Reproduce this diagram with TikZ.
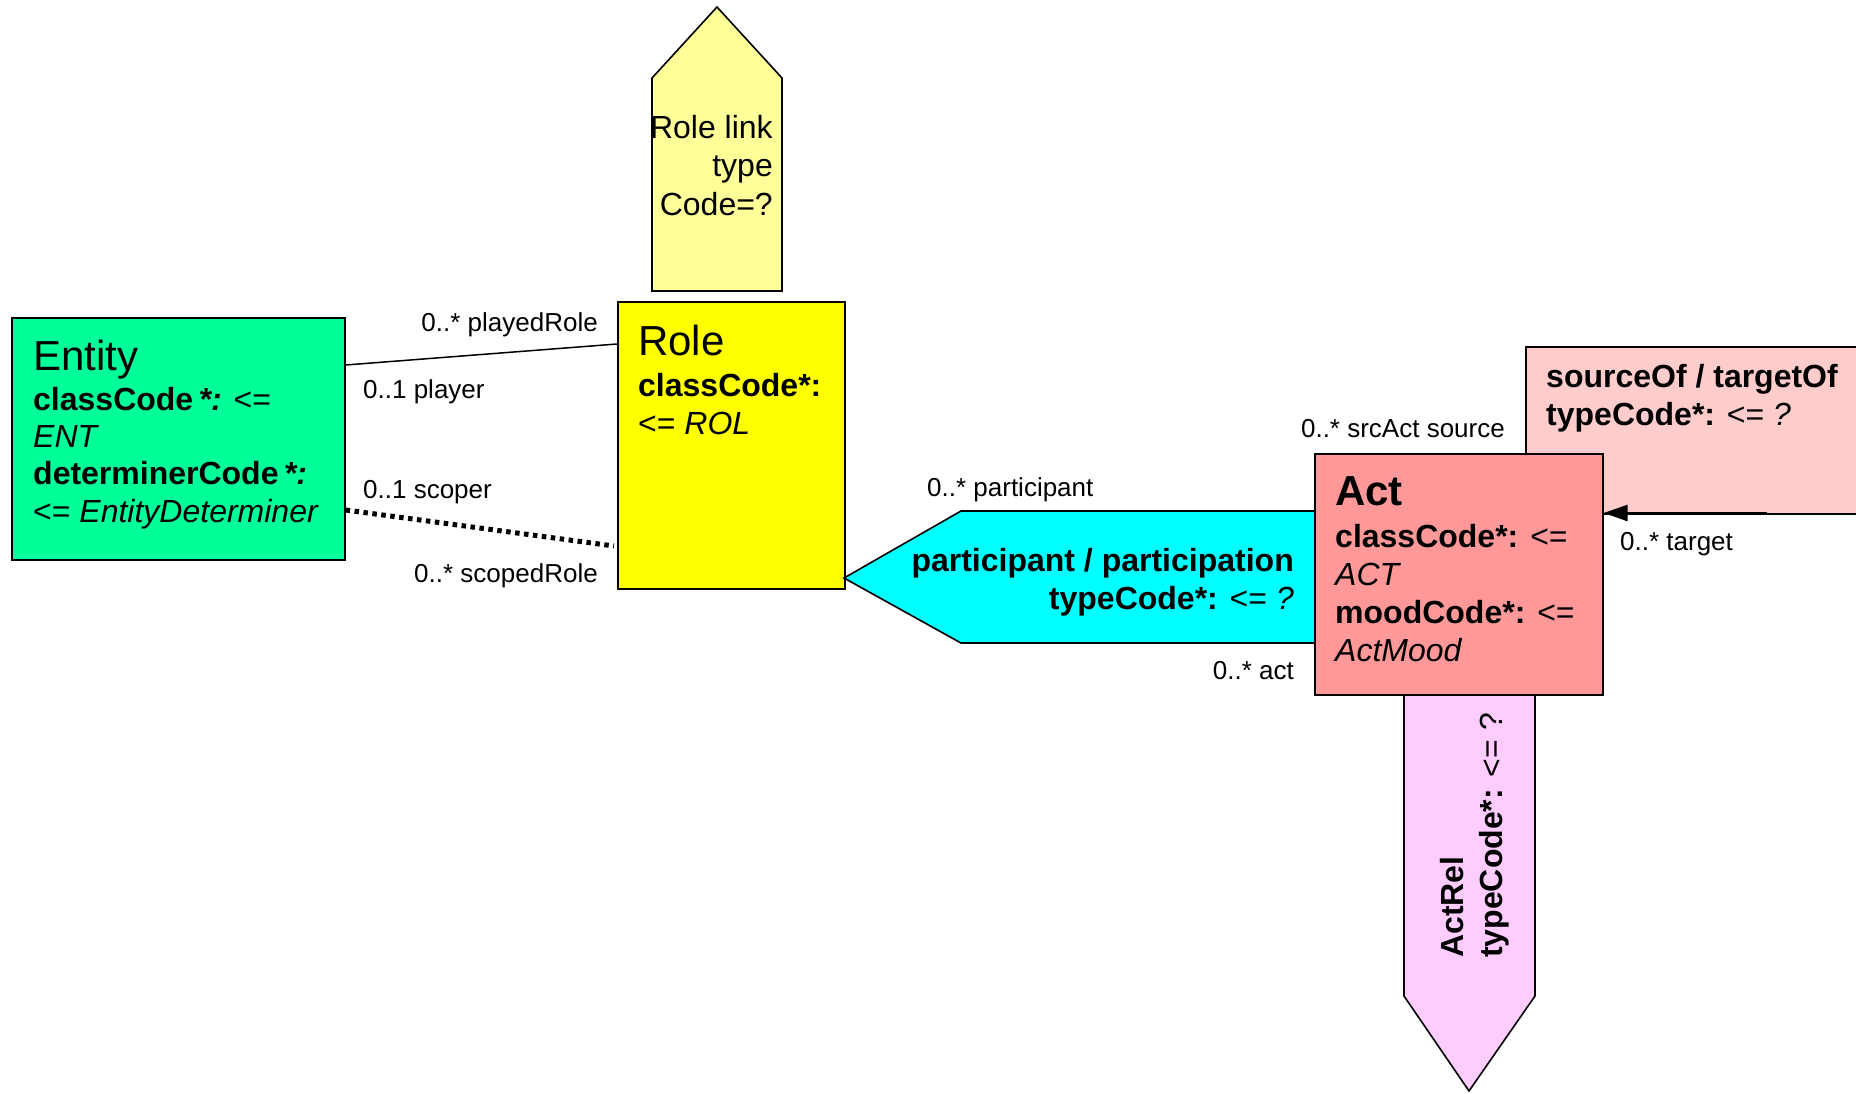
\documentclass[tikz,border=0pt]{standalone}
\usepackage{fontspec}
\setmainfont{Liberation Sans}
\usetikzlibrary{arrows.meta,calc}
\definecolor{entgreen}{RGB}{0,255,153}
\definecolor{roleyellow}{RGB}{255,255,0}
\definecolor{linkyellow}{RGB}{255,255,153}
\definecolor{partcyan}{RGB}{0,255,255}
\definecolor{actred}{RGB}{255,153,153}
\definecolor{srcpink}{RGB}{255,204,204}
\definecolor{relpink}{RGB}{255,204,255}
\begin{document}
\begin{tikzpicture}[x=1pt,y=-1pt,
  box/.style={draw=black, line width=1.6pt, inner sep=0pt, anchor=north west},
  shapeline/.style={draw=black, line width=1.6pt, line join=miter},
  % multi-line texts are placed by the baseline of their last line
  txt/.style={inner sep=0pt, anchor=base west, align=left},
  rtxt/.style={inner sep=0pt, anchor=base east, align=right},
  lbl/.style={inner sep=0pt, font=\fontsize{26}{30}\selectfont},
  title/.style={font=\fontsize{42}{48}\selectfont},
  attr/.style={font=\fontsize{32}{38}\selectfont},
]
\useasboundingbox (0,0) rectangle (1856,1093);
\clip (0,0) rectangle (1856,1093);

% role link pentagon above Role
\filldraw[shapeline, fill=linkyellow] (652,291) -- (652,78) -- (717,7) -- (782,78) -- (782,291) -- cycle;
\node[rtxt, font=\fontsize{32}{38.5}\selectfont] (linkText) at (773,215) {Role link\\type\\Code=?};

% classes
\node[box, fill=entgreen, minimum width=333pt, minimum height=242pt] (entity) at (11,317) {};
\node[box, fill=roleyellow, minimum width=227pt, minimum height=287pt] (role) at (617,301) {};

% participation pentagon pointing at Role
\filldraw[shapeline, fill=partcyan] (1314,511) -- (961,511) -- (844,578) -- (961,643) -- (1314,643);

% source/target relationship box, partly under Act
\node[box, fill=srcpink, minimum width=380pt, minimum height=167pt] (srcbox) at (1525,346) {};

% ActRel pentagon below Act
\filldraw[shapeline, fill=relpink] (1404,694) -- (1404,996) -- (1469,1091) -- (1535,996) -- (1535,694);

\node[box, fill=actred, minimum width=288pt, minimum height=241pt] (act) at (1314,453) {};

% Entity text
\node[txt, title] (entityName) at (33,370) {Entity};
\node[txt, font=\fontsize{32}{37.3}\selectfont] (entityAttrs) at (33,522) {\textbf{classCode\textit{\,*:}} <=\\\textit{ENT}\\\textbf{determinerCode\textit{\,*:}}\\<= \textit{EntityDeterminer}};

% Role text
\node[txt, title] (roleName) at (638,355) {Role};
\node[txt, attr] (roleAttrs) at (638,434) {\textbf{classCode*:}\\<= \textit{ROL}};

% Act text
\node[txt, font=\bfseries\fontsize{42}{48}\selectfont] (actName) at (1335,505) {Act};
\node[txt, attr] (actAttrs) at (1335,661) {\textbf{classCode*:} <=\\\textit{ACT}\\\textbf{moodCode*:} <=\\\textit{ActMood}};

% relationship texts
\node[txt, attr] (srcText) at (1546,425) {\textbf{sourceOf / targetOf}\\\textbf{typeCode*:} <= \textit{?}};
\node[rtxt, attr] (partText) at (1294,609) {\textbf{participant / participation}\\\textbf{typeCode*:} <= \textit{?}};
\node[txt, rotate=90, font=\fontsize{32}{39}\selectfont] (relText) at (1502,958) {\textbf{ActRel}\\\textbf{typeCode*:} <= ?};

% associations
\draw[line width=1.5pt] ($(entity.north east)+(0,48)$) -- ($(role.north west)+(0,43)$);
\draw[line width=5pt, dash pattern=on 4.5pt off 4.5pt] ($(entity.north east)+(0,193)$) -- ($(role.north west)+(-3,245)$);
\coordinate (tgtFrom) at (1767,513);
\draw[line width=2.4pt, -{Triangle[length=24pt,width=16pt]}] (tgtFrom) -- (act.east |- tgtFrom);

% association end labels
\node[lbl, anchor=base east] (lPlayedRole) at (598,331) {0..* playedRole};
\node[lbl, anchor=base west] (lPlayer) at (363,398) {0..1 player};
\node[lbl, anchor=base west] (lScoper) at (363,498) {0..1 scoper};
\node[lbl, anchor=base east] (lScopedRole) at (598,582) {0..* scopedRole};
\node[lbl, anchor=base west] (lParticipant) at (927,496) {0..* participant};
\node[lbl, anchor=base east] (lAct) at (1294,679) {0..* act};
\node[lbl, anchor=base east] (lSrcAct) at (1505,437) {0..* srcAct source};
\node[lbl, anchor=base west] (lTarget) at (1620,550) {0..* target};
\end{tikzpicture}
\end{document}
